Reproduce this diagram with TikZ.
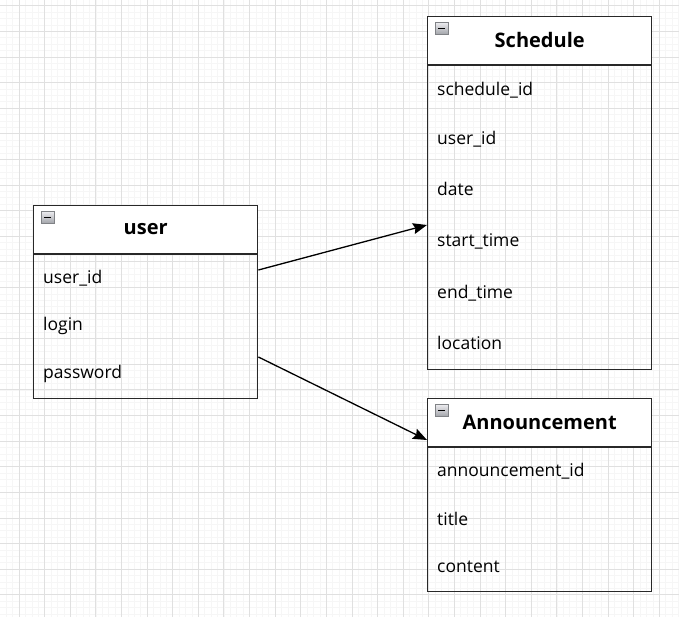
\documentclass[tikz,border=0pt]{standalone}
\usepackage{fontspec}
\setmainfont{Open Sans}
\usepackage{tikz}
\usetikzlibrary{positioning}
\usetikzlibrary{arrows.meta}
\usetikzlibrary{calc}

\definecolor{gridminor}{RGB}{246,246,246}
\definecolor{gridmajor}{RGB}{224,224,224}
\definecolor{boxline}{RGB}{40,40,40}
\definecolor{iconlight}{RGB}{235,235,238}
\definecolor{icondark}{RGB}{160,162,168}

\tikzset{
	entityhead/.style={draw=boxline, line width=1.4pt, fill=white, minimum width=224pt, minimum height=48pt,
		inner sep=0pt, font=\fontsize{20}{24}\selectfont\bfseries},
	entitybody/.style={draw=boxline, line width=1.4pt, minimum width=224pt, inner sep=0pt},
	field/.style={anchor=west, inner sep=0pt, font=\fontsize{17.5}{21}\selectfont},
	relation/.style={draw=black, line width=1.3pt, -{Stealth[length=14pt,width=11pt,inset=2pt]}},
}

% collapse icon in the upper left corner of a header
\newcommand{\foldicon}[1]{%
	\path[top color=iconlight, bottom color=icondark, draw=icondark!80!black, line width=0.6pt]
		($(#1.north west)+(8pt,-7pt)$) rectangle ++(13pt,-12pt);
	\draw[line width=1.6pt, black] ($(#1.north west)+(11pt,-13pt)$) -- ++(7pt,0);
}

\begin{document}
\begin{tikzpicture}[x=1pt, y=-1pt]

	% Proper size --- Bounding box
	\useasboundingbox (0,0) rectangle (679,617);

	% background grid
	\fill[white] (0,0) rectangle (679,617);
	\foreach \i in {-4,...,108} {
		\draw[gridminor, line width=0.6pt] ({19+6.4025*\i},0) -- ({19+6.4025*\i},617);
	}
	\foreach \j in {-1,...,96} {
		\draw[gridminor, line width=0.6pt] (0,{5.7+6.4025*\j}) -- (679,{5.7+6.4025*\j});
	}
	\foreach \i in {-1,...,27} {
		\draw[gridmajor, line width=0.8pt] ({19+25.61*\i},0) -- ({19+25.61*\i},617);
	}
	\foreach \j in {0,...,24} {
		\draw[gridmajor, line width=0.8pt] (0,{5.7+25.61*\j}) -- (679,{5.7+25.61*\j});
	}

	% ------------------------------------------------
	% user
	% ------------------------------------------------
	\node[entitybody, minimum height=144pt, anchor=north west] (userbody) at (33,254) {};
	\node[entityhead, anchor=south west] (user) at (userbody.north west) {user};
	\foldicon{user}
	\node[field] (u1) at (43,278) {user\_id};
	\node[field] (u2) at (43,326) {login};
	\node[field] (u3) at (43,374) {password};

	% ------------------------------------------------
	% Schedule
	% ------------------------------------------------
	\node[entitybody, minimum height=304pt, anchor=north west] (schedbody) at (427,65) {};
	\node[entityhead, anchor=south west] (sched) at (schedbody.north west) {Schedule};
	\foldicon{sched}
	\node[field] (s1) at (437,90)  {schedule\_id};
	\node[field] (s2) at (437,139) {user\_id};
	\node[field] (s3) at (437,189) {date};
	\node[field] (s4) at (437,241) {start\_time};
	\node[field] (s5) at (437,293) {end\_time};
	\node[field] (s6) at (437,343) {location};

	% ------------------------------------------------
	% Announcement
	% ------------------------------------------------
	\node[entitybody, minimum height=144pt, anchor=north west] (annbody) at (427,447) {};
	\node[entityhead, anchor=south west] (ann) at (annbody.north west) {Announcement};
	\foldicon{ann}
	\node[field] (a1) at (437,471) {announcement\_id};
	\node[field] (a2) at (437,519) {title};
	\node[field] (a3) at (437,567) {content};

	% relations
	\coordinate (userout1) at (userbody.east |- 0,270);
	\coordinate (userout2) at (userbody.east |- 0,357);
	\coordinate (schedin) at (schedbody.west |- 0,225);
	\coordinate (annin) at (ann.west |- 0,440);
	\draw[relation] (userout1) -- (schedin);
	\draw[relation] (userout2) -- (annin);

\end{tikzpicture}
\end{document}
